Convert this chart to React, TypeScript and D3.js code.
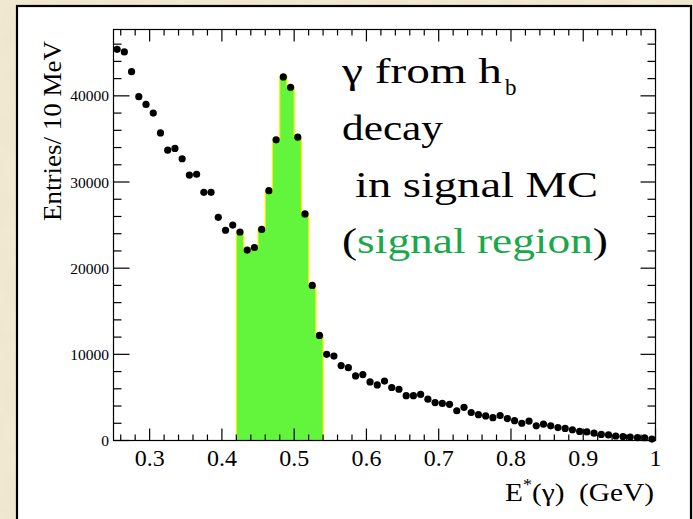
import React from "react";
import * as d3 from "d3";

// ---- data: photon energy bin centres (GeV) and entries per 10 MeV ----
const energies = [
  0.255, 0.265, 0.275, 0.285, 0.295, 0.305, 0.315, 0.325, 0.335, 0.345,
  0.355, 0.365, 0.375, 0.385, 0.395, 0.405, 0.415, 0.425, 0.435, 0.445,
  0.455, 0.465, 0.475, 0.485, 0.495, 0.505, 0.515, 0.525, 0.535, 0.545,
  0.555, 0.565, 0.575, 0.585, 0.595, 0.605, 0.615, 0.625, 0.635, 0.645,
  0.655, 0.665, 0.675, 0.685, 0.695, 0.705, 0.715, 0.725, 0.735, 0.745,
  0.755, 0.765, 0.775, 0.785, 0.795, 0.805, 0.815, 0.825, 0.835, 0.845,
  0.855, 0.865, 0.875, 0.885, 0.895, 0.905, 0.915, 0.925, 0.935, 0.945,
  0.955, 0.965, 0.975, 0.985, 0.995,
];
const entries = [
  45400, 45100, 42800, 39900, 39000, 38000, 35700, 33700, 33900, 32700,
  30800, 30900, 28800, 28800, 25900, 24400, 25000, 24200, 22100, 22400,
  24500, 29000, 34900, 42200, 41000, 35200, 26300, 18000, 12200, 10000,
  9800, 8700, 8450, 7500, 7650, 6800, 6450, 6900, 6150, 5950,
  5200, 5200, 5350, 4800, 4400, 4300, 4200, 3450, 3850, 3250,
  3000, 2850, 2650, 2900, 2550, 2300, 2000, 2250, 1700, 1900,
  1700, 1500, 1400, 1250, 1050, 1000, 850, 700, 650, 520,
  450, 400, 330, 320, 170,
];
const binWidth = 0.01;
const signalRegion = [0.42, 0.54];

const xDomain = [0.25, 1.0];
const yDomain = [0, 47700];
const xTickValues = [0.3, 0.4, 0.5, 0.6, 0.7, 0.8, 0.9, 1.0];
const xTickLabels = ["0.3", "0.4", "0.5", "0.6", "0.7", "0.8", "0.9", "1"];
const yTickValues = [0, 10000, 20000, 30000, 40000];
const yTickLabels = ["0", "10000", "20000", "30000", "40000"];

const W = 693;
const H = 519;
const plot = { left: 113.5, right: 655.5, top: 29.5, bottom: 440.5 };
const SERIF = "'Liberation Serif', 'Times New Roman', serif";

export default function App() {
  const x = d3.scaleLinear().domain(xDomain).range([plot.left, plot.right]);
  const y = d3.scaleLinear().domain(yDomain).range([plot.bottom, plot.top]);

  const xMinor = d3.range(0.26, 1.0001, 0.02).filter(
    (v) => !xTickValues.some((t) => Math.abs(t - v) < 1e-6)
  );
  const yMinor = d3.range(2000, 47000, 2000).filter((v) => v % 10000 !== 0);

  // signal-region histogram (step)
  const sig = energies
    .map((e, i) => ({ lo: e - binWidth / 2, v: entries[i] }))
    .filter((d) => d.lo >= signalRegion[0] - 1e-6 && d.lo < signalRegion[1] - 1e-6);
  const stepPts: [number, number][] = sig.map((d) => [d.lo, d.v]);
  stepPts.push([signalRegion[1], sig[sig.length - 1].v]);
  const area = d3
    .area<[number, number]>()
    .x((d) => x(d[0]))
    .y0(y(0))
    .y1((d) => y(d[1]))
    .curve(d3.curveStepAfter);
  const line = d3
    .line<[number, number]>()
    .x((d) => x(d[0]))
    .y((d) => y(d[1]))
    .curve(d3.curveStepAfter);
  const outlinePath =
    `M${x(signalRegion[0])},${y(0)}V${y(sig[0].v)}` +
    line(stepPts)!.replace(/^M[^LHV]*/, "") +
    `V${y(0)}`;

  return (
    <svg
      width={W}
      height={H}
      style={{ position: "fixed", left: 0, top: 0, display: "block" }}
      fontFamily={SERIF}
    >
      <defs>
        <filter id="paper" x="0" y="0" width="100%" height="100%">
          <feTurbulence type="fractalNoise" baseFrequency="0.035" numOctaves="4" seed="3" />
          <feColorMatrix
            type="matrix"
            values="0 0 0 0 0.55  0 0 0 0 0.45  0 0 0 0 0.25  0 0 0 0.22 0"
          />
        </filter>
      </defs>
      {/* parchment background */}
      <rect x={0} y={0} width={W} height={H} fill="#f3ebd5" />
      <rect x={0} y={0} width={W} height={H} filter="url(#paper)" opacity={0.5} />

      {/* white panel */}
      <rect x={17} y={6} width={674} height={530} fill="#ffffff" stroke="#000" strokeWidth={2.2} />

      {/* signal histogram */}
      <path d={area(stepPts)!} fill="#63f43c" />
      <path d={outlinePath} fill="none" stroke="#f4f400" strokeWidth={1.2} />

      {/* frame */}
      <rect
        x={plot.left}
        y={plot.top}
        width={plot.right - plot.left}
        height={plot.bottom - plot.top}
        fill="none"
        stroke="#000"
        strokeWidth={1.2}
      />

      {/* x ticks bottom & top */}
      {xTickValues.map((v) => (
        <g key={"xM" + v}>
          <line x1={x(v)} x2={x(v)} y1={plot.bottom} y2={plot.bottom - 12} stroke="#000" strokeWidth={1.2} />
          <line x1={x(v)} x2={x(v)} y1={plot.top} y2={plot.top + 12} stroke="#000" strokeWidth={1.2} />
        </g>
      ))}
      {xMinor.map((v) => (
        <g key={"xm" + v}>
          <line x1={x(v)} x2={x(v)} y1={plot.bottom} y2={plot.bottom - 6} stroke="#000" strokeWidth={1.2} />
          <line x1={x(v)} x2={x(v)} y1={plot.top} y2={plot.top + 6} stroke="#000" strokeWidth={1.2} />
        </g>
      ))}
      {/* y ticks left & right */}
      {yTickValues.map((v) => (
        <g key={"yM" + v}>
          <line x1={plot.left} x2={plot.left + 16} y1={y(v)} y2={y(v)} stroke="#000" strokeWidth={1.2} />
          <line x1={plot.right} x2={plot.right - 15} y1={y(v)} y2={y(v)} stroke="#000" strokeWidth={1.2} />
        </g>
      ))}
      {yMinor.map((v) => (
        <g key={"ym" + v}>
          <line x1={plot.left} x2={plot.left + 8} y1={y(v)} y2={y(v)} stroke="#000" strokeWidth={1.2} />
          <line x1={plot.right} x2={plot.right - 8} y1={y(v)} y2={y(v)} stroke="#000" strokeWidth={1.2} />
        </g>
      ))}

      {/* tick labels */}
      {xTickValues.map((v, i) => (
        <text key={"xl" + v} x={x(v)} y={466} fontSize={24} textAnchor="middle" fill="#000">
          {xTickLabels[i]}
        </text>
      ))}
      {yTickValues.map((v, i) => (
        <text key={"yl" + v} x={109} y={y(v) + 5.5} fontSize={15.5} textAnchor="end" fill="#000">
          {yTickLabels[i]}
        </text>
      ))}

      {/* axis titles */}
      <text
        x={505}
        y={501}
        fontSize={26}
        fill="#000"
        style={{ whiteSpace: "pre" }}
        textLength={149}
        lengthAdjust="spacingAndGlyphs"
      >
        E<tspan dy={-11} fontSize={16}>*</tspan>
        <tspan dy={11}>{"(γ)  (GeV)"}</tspan>
      </text>
      <text
        transform="translate(61,41) rotate(-90)"
        fontSize={26}
        textAnchor="end"
        fill="#000"
        textLength={180}
        lengthAdjust="spacingAndGlyphs"
      >
        Entries/ 10 MeV
      </text>

      {/* data points */}
      {energies.map((e, i) => (
        <circle key={"p" + e} cx={x(e)} cy={y(entries[i])} r={3.6} fill="#000" />
      ))}

      {/* annotation */}
      <text x={342} y={83} fontSize={35} fill="#000" textLength={160} lengthAdjust="spacingAndGlyphs">
        γ from h
      </text>
      <text x={505} y={95} fontSize={23} fill="#000">
        b
      </text>
      <text x={342} y={140} fontSize={35} fill="#000" textLength={101} lengthAdjust="spacingAndGlyphs">
        decay
      </text>
      <text x={355} y={197} fontSize={35} fill="#000" textLength={243} lengthAdjust="spacingAndGlyphs">
        in signal MC
      </text>
      <text x={342} y={253} fontSize={35} fill="#000" textLength={266} lengthAdjust="spacingAndGlyphs">
        (<tspan fill="#1aa84a">signal region</tspan>)
      </text>
    </svg>
  );
}
